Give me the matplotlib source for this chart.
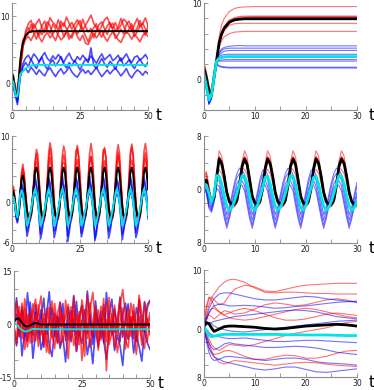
import matplotlib
matplotlib.use("Agg")
import matplotlib.pyplot as plt
import numpy as np

RED = "#ff0000"
BLUE = "#0000ff"
CYAN = "#00e5e5"

# ---------------- row 1: relaxation to a steady state ----------------
t_run = np.arange(0, 51)  # sample times of the stochastic runs (rows 1 and 3, left)

run1_red = [
    [1.0, -0.8, -2.0, 2.5, 6.0, 7.4, 8.3, 7.6, 8.9, 8.1, 7.2, 8.6, 9.3, 8.0, 7.5, 8.8, 8.2, 9.5, 8.4, 7.0,
     7.8, 8.6, 9.1, 8.3, 7.4, 8.0, 9.6, 8.5, 7.7, 8.2, 6.8, 7.9, 8.8, 9.2, 8.1, 7.3, 8.5, 9.0, 7.8, 8.4,
     9.7, 8.6, 7.5, 8.1, 8.9, 7.6, 8.3, 9.4, 8.0, 7.2, 8.7],
    [1.8, 0.0, -1.5, 3.2, 6.5, 7.0, 7.4, 8.8, 7.5, 6.6, 8.0, 7.3, 8.1, 9.2, 8.6, 7.1, 6.4, 7.6, 8.5, 9.0,
     8.2, 7.2, 6.8, 7.9, 8.8, 9.4, 8.0, 7.1, 6.2, 7.4, 8.3, 8.9, 7.6, 6.9, 7.8, 8.6, 9.1, 8.0, 6.7, 7.3,
     8.1, 7.4, 8.8, 9.3, 8.2, 7.0, 7.7, 8.5, 9.0, 8.1, 7.6],
    [0.5, -1.2, -2.5, 1.8, 5.2, 7.8, 8.9, 9.4, 8.2, 9.0, 9.6, 8.3, 7.6, 8.4, 9.8, 9.1, 8.7, 8.0, 9.3, 8.5,
     9.9, 9.0, 8.1, 8.8, 9.5, 8.6, 7.9, 8.7, 9.4, 10.2, 9.0, 8.3, 7.8, 8.6, 9.5, 9.9, 8.8, 8.2, 9.1, 8.0,
     8.7, 9.6, 9.2, 8.4, 7.9, 8.8, 9.7, 8.5, 8.9, 9.8, 8.6],
    [1.2, -0.5, -2.2, 2.0, 5.5, 6.6, 7.0, 6.4, 7.3, 7.8, 6.9, 6.2, 7.1, 7.6, 6.8, 7.4, 8.0, 7.2, 6.5, 6.9,
     7.7, 6.6, 7.3, 8.1, 7.0, 6.4, 7.2, 6.0, 5.8, 6.7, 7.5, 6.8, 7.4, 7.9, 6.9, 6.3, 7.1, 7.7, 7.2, 6.5,
     6.1, 7.0, 7.8, 7.3, 6.6, 7.4, 6.8, 6.2, 7.1, 7.6, 7.0],
]
run1_blue = [
    [0.8, -1.0, -2.8, 1.0, 2.4, 3.1, 2.5, 3.6, 2.8, 2.2, 3.3, 3.9, 2.7, 2.1, 3.0, 3.5, 2.6, 3.2, 4.0, 2.9,
     2.3, 3.1, 2.6, 3.4, 2.8, 2.0, 2.9, 3.6, 3.1, 5.3, 2.7, 2.2, 3.0, 3.7, 2.9, 2.4, 3.3, 2.8, 2.1, 3.2,
     3.8, 2.6, 3.0, 3.5, 2.7, 2.2, 3.1, 3.6, 2.9, 2.5, 3.2],
    [1.2, -0.6, -2.4, 1.4, 1.8, 2.2, 1.6, 2.4, 1.9, 1.3, 2.0, 1.5, 1.1, 1.9, 2.3, 1.6, 1.0, 1.7, 2.2, 1.4,
     1.8, 2.5, 1.7, 1.2, 0.9, 1.6, 2.1, 1.5, 1.9, 1.3, 1.8, 2.4, 1.6, 1.0, 1.5, 2.0, 1.4, 1.9, 2.3, 1.7,
     1.1, 1.6, 2.2, 1.3, 0.8, 1.5, 2.0, 1.7, 1.2, 1.8, 1.4],
    [0.4, -1.4, -3.2, 0.8, 2.9, 3.8, 4.2, 3.5, 4.4, 3.9, 3.2, 4.0, 4.6, 3.7, 3.3, 4.1, 3.6, 4.3, 3.8, 3.1,
     3.9, 4.5, 3.6, 3.2, 4.0, 3.5, 4.2, 3.7, 3.4, 4.1, 3.6, 3.0, 3.8, 4.4, 3.5, 3.9, 4.3, 3.4, 3.7, 4.2,
     3.3, 3.8, 4.4, 3.6, 3.1, 3.9, 4.1, 3.5, 3.8, 4.3, 3.6],
]
t_mean1 = [0, 0.5, 1, 1.5, 2, 2.5, 3, 3.5, 4, 5, 6, 7, 8, 10, 50]
mean1_black = [1.5, 1.0, -0.5, -1.8, -2.0, 0.5, 3.2, 4.9, 6.0, 7.1, 7.6, 7.75, 7.8, 7.8, 7.8]
mean1_cyan = [0.5, 0.2, -1.0, -2.0, -2.0, -0.5, 1.3, 1.6, 1.8, 2.2, 2.5, 2.65, 2.7, 2.75, 2.75]

t_det1 = [0, 0.5, 1, 1.5, 2, 2.5, 3, 3.5, 4, 5, 6, 7, 8, 10, 30]
det1_red = [
    [2.0, 0.8, -1.0, -1.8, 0.5, 2.8, 5.6, 7.2, 8.0, 8.9, 9.3, 9.45, 9.5, 9.55, 9.55],
    [1.8, 0.5, -1.2, -1.8, 0.4, 2.6, 4.9, 6.1, 6.9, 7.7, 8.0, 8.15, 8.2, 8.25, 8.25],
    [1.2, 0.0, -1.6, -2.0, 0.2, 2.5, 4.7, 5.9, 6.6, 7.4, 7.8, 7.95, 8.05, 8.1, 8.1],
    [1.6, 0.4, -1.4, -1.9, 0.3, 2.5, 4.6, 5.7, 6.4, 7.1, 7.3, 7.35, 7.35, 7.35, 7.35],
    [1.0, -0.2, -1.7, -2.1, 0.1, 2.4, 4.2, 5.1, 5.6, 6.0, 6.2, 6.25, 6.3, 6.3, 6.3],
    [2.2, 1.0, -0.9, -1.6, 0.6, 2.7, 5.0, 6.2, 7.0, 7.8, 8.1, 8.25, 8.3, 8.3, 8.3],
]
det1_blue = [
    [1.0, -0.6, -2.6, -1.8, 0.6, 2.5, 3.6, 4.0, 4.2, 4.35, 4.4, 4.45, 4.4, 4.4, 4.4],
    [0.8, -0.9, -2.9, -2.2, 0.3, 2.4, 3.4, 3.8, 4.0, 4.1, 4.1, 4.1, 4.1, 4.1, 4.1],
    [0.6, -1.1, -3.1, -2.4, 0.2, 2.4, 3.2, 3.5, 3.7, 3.8, 3.8, 3.8, 3.8, 3.8, 3.8],
    [1.2, -0.5, -2.5, -1.9, 0.5, 2.5, 3.0, 3.2, 3.25, 3.3, 3.3, 3.3, 3.3, 3.3, 3.3],
    [0.5, -1.3, -3.3, -2.6, 0.0, 2.3, 2.7, 2.85, 2.9, 2.9, 2.9, 2.9, 2.9, 2.9, 2.9],
    [0.9, -0.8, -2.8, -2.0, 0.4, 2.4, 2.5, 2.55, 2.6, 2.6, 2.6, 2.6, 2.6, 2.6, 2.6],
    [0.7, -1.0, -3.0, -2.3, 0.2, 2.3, 2.4, 2.4, 2.4, 2.4, 2.4, 2.4, 2.4, 2.4, 2.4],
    [1.1, -0.7, -2.7, -2.1, 0.3, 2.1, 1.8, 1.7, 1.65, 1.6, 1.6, 1.6, 1.6, 1.6, 1.6],
    [0.4, -1.4, -3.2, -2.5, -0.1, 1.9, 1.7, 1.6, 1.55, 1.5, 1.5, 1.5, 1.5, 1.5, 1.5],
]
det1_black = [1.5, 0.2, -1.5, -2.0, 0.3, 2.5, 4.8, 6.0, 6.7, 7.5, 7.8, 7.9, 7.95, 7.95, 7.95]
det1_cyan = [0.8, -0.9, -2.7, -2.0, 0.3, 2.4, 2.8, 2.9, 2.95, 3.0, 3.0, 3.0, 3.0, 3.0, 3.0]

# ---------------- row 2: oscillations ----------------
t_osc = np.arange(0, 50.5, 0.5)

run2_red = [
    [1.2, 2.5, 1.0, -1.0, -2.3, -1.8, 1.2, 4.5, 5.8, 4.0, 1.2, -1.0, -2.4, -2.6, -2.0, -0.4, 3.0, 6.2,
     7.4, 6.0, 2.6, -0.8, -2.3, -2.7, -2.1, -0.3, 3.1, 6.5,
     8.1, 6.9, 3.4, -0.2, -2.0, -2.4, -2.5, -1.0, 2.4, 5.9,
     7.2, 6.4, 2.2, -1.1, -2.6, -2.3, -1.8, 0.1, 3.3, 6.8,
     8.6, 7.0, 3.8, 0.3, -1.9, -2.5, -2.2, -0.7, 2.7, 6.1,
     7.0, 5.6, 2.1, -0.9, -2.4, -2.8, -2.0, -0.2, 3.5, 7.2,
     8.3, 6.6, 3.1, -0.4, -2.2, -2.4, -2.3, -0.9, 2.2, 5.7,
     7.6, 6.2, 2.9, -0.6, -2.5, -2.6, -1.9, 0.0, 3.2, 6.9,
     8.8, 7.3, 3.6, 0.1, -2.0, -2.5, -2.2, -0.6, 2.8, 6.3,
     7.5, 6.1, 3.0],
    [0.8, 1.9, 0.4, -1.6, -2.2, -1.2, 0.5, 3.2, 4.6, 3.6, 0.9, -1.4, -2.2, -2.3, -1.5, 0.2, 3.4, 5.6,
     6.2, 5.1, 2.8, -0.2, -2.0, -2.3, -1.7, 0.2, 3.0, 5.5,
     6.8, 5.4, 2.4, -0.7, -2.1, -2.2, -1.6, -0.1, 3.6, 5.9,
     6.0, 5.8, 3.0, 0.1, -1.8, -2.4, -1.9, 0.4, 3.1, 5.2,
     6.5, 5.2, 2.3, -0.5, -2.2, -2.1, -1.5, 0.0, 3.4, 6.0,
     6.9, 5.5, 2.7, -0.3, -1.9, -2.3, -1.8, 0.3, 2.9, 5.4,
     6.3, 5.0, 2.0, -0.8, -2.3, -2.2, -1.6, 0.1, 3.3, 5.8,
     7.1, 5.7, 2.6, -0.4, -2.0, -2.4, -1.7, 0.2, 3.0, 5.6,
     6.4, 5.3, 2.5, -0.6, -2.1, -2.2, -1.8, -0.2, 3.5, 6.1,
     6.6, 5.2, 2.7],
    [1.5, 2.2, 0.9, -1.2, -2.5, -1.9, 1.0, 4.0, 5.2, 4.4, 1.5, -0.8, -2.6, -2.8, -2.2, -0.6, 2.6, 5.9,
     8.0, 7.2, 3.5, 0.2, -2.1, -2.9, -2.4, -0.5, 3.8, 7.5,
     9.0, 7.8, 4.0, 0.5, -2.4, -2.7, -2.2, -0.2, 3.9, 7.1,
     8.5, 7.6, 3.3, -0.1, -2.5, -3.0, -2.3, -0.4, 4.2, 7.8,
     8.2, 6.8, 3.7, 0.4, -2.2, -2.8, -2.1, -0.1, 3.6, 7.3,
     8.9, 7.5, 3.9, 0.0, -2.6, -2.9, -2.4, -0.3, 4.0, 7.9,
     8.0, 7.0, 3.4, 0.2, -2.3, -2.7, -2.2, -0.6, 3.7, 7.4,
     8.7, 7.4, 3.8, 0.3, -2.2, -3.0, -2.5, -0.2, 4.1, 7.6,
     8.4, 7.1, 3.6, 0.1, -2.4, -2.8, -2.3, -0.4, 3.9, 7.7,
     8.9, 7.4, 3.8],
]
run2_blue = [
    [0.5, 1.2, -0.2, -2.0, -2.8, -1.2, 1.5, 2.6, 2.0, 0.2, -2.2, -4.2, -3.6, -2.4, -1.2, 0.4, 2.1, 3.3,
     2.4, 0.5, -2.2, -4.6, -3.7, -2.5, -1.1, 0.5, 2.3, 3.5,
     2.0, 0.8, -1.9, -4.2, -4.0, -2.8, -1.5, 0.1, 1.8, 3.0,
     2.6, 0.4, -2.4, -5.0, -3.9, -2.4, -1.2, 0.6, 2.2, 3.8,
     2.1, 0.7, -2.0, -4.5, -3.6, -2.7, -1.4, 0.2, 1.9, 3.1,
     2.5, 0.3, -2.3, -5.3, -4.1, -2.6, -1.0, 0.4, 2.4, 3.6,
     2.2, 0.9, -1.8, -4.3, -3.8, -2.5, -1.3, 0.3, 2.0, 3.3,
     2.7, 0.5, -2.1, -4.7, -3.9, -2.8, -1.2, 0.5, 2.1, 3.4,
     2.3, 0.6, -2.2, -4.4, -3.7, -2.6, -1.4, 0.2, 2.2, 3.2,
     2.4, 0.7, -2.0],
    [0.8, 1.0, 0.0, -1.6, -2.4, -1.4, 0.6, 1.2, 0.9, -0.2, -1.6, -3.0, -2.8, -2.0, -1.0, 0.0, 0.9, 1.4,
     1.0, -0.1, -1.5, -3.1, -2.9, -2.1, -1.1, -0.1, 0.8, 1.3,
     0.9, 0.0, -1.7, -3.3, -2.7, -1.9, -0.9, 0.1, 1.0, 1.6,
     1.1, -0.2, -1.4, -2.9, -3.0, -2.2, -1.2, -0.2, 0.7, 1.2,
     0.8, 0.1, -1.6, -3.2, -2.8, -1.8, -1.0, 0.0, 0.9, 1.5,
     1.2, -0.1, -1.5, -3.0, -2.9, -2.0, -1.1, 0.1, 1.1, 1.4,
     0.9, 0.0, -1.8, -3.4, -2.7, -2.1, -0.9, -0.1, 0.8, 1.3,
     1.0, -0.2, -1.6, -3.1, -3.0, -1.9, -1.0, 0.0, 1.0, 1.6,
     1.1, 0.1, -1.5, -3.0, -2.8, -2.0, -1.2, 0.1, 0.9, 1.4,
     1.0, 0.0, -1.6],
    [0.3, 1.5, 0.2, -2.2, -3.0, -1.0, 1.9, 3.0, 2.4, 0.4, -2.6, -5.0, -4.2, -2.8, -1.4, 0.6, 2.6, 3.9,
     2.8, 0.9, -2.5, -5.4, -4.4, -2.9, -1.3, 0.8, 2.7, 3.8,
     3.0, 0.6, -2.7, -5.2, -4.3, -3.0, -1.6, 0.5, 2.5, 4.1,
     2.6, 0.8, -2.4, -5.8, -4.5, -2.8, -1.4, 0.7, 2.9, 3.7,
     3.1, 1.0, -2.6, -5.1, -4.2, -3.1, -1.5, 0.6, 2.6, 4.0,
     2.7, 0.7, -2.8, -5.6, -4.6, -2.9, -1.2, 0.9, 2.8, 3.9,
     3.2, 0.9, -2.5, -5.3, -4.4, -3.0, -1.4, 0.5, 2.7, 3.6,
     2.9, 0.6, -2.7, -5.5, -4.3, -2.8, -1.6, 0.8, 2.5, 4.0,
     3.0, 0.8, -2.6, -5.2, -4.5, -3.1, -1.3, 0.7, 2.9, 3.8,
     2.8, 0.9, -2.4],
]
mean2_black = [
    1.0, 1.7, 0.6, -1.3, -2.0, -1.6, 0.8, 3.6, 4.1, 3.0, 0.8, -1.2, -2.0, -2.0, -1.8, -0.3, 2.4, 4.7,
    5.3, 4.4, 2.0, -0.6, -1.9, -2.0, -1.9, -0.5, 2.2, 4.6,
    5.3, 4.4, 2.0, -0.6, -1.9, -2.0, -1.9, -0.5, 2.2, 4.6,
    5.3, 4.4, 2.0, -0.6, -1.9, -2.0, -1.9, -0.5, 2.2, 4.6,
    5.3, 4.4, 2.0, -0.6, -1.9, -2.0, -1.9, -0.5, 2.2, 4.6,
    5.3, 4.4, 2.0, -0.6, -1.9, -2.0, -1.9, -0.5, 2.2, 4.6,
    5.3, 4.4, 2.0, -0.6, -1.9, -2.0, -1.9, -0.5, 2.2, 4.6,
    5.3, 4.4, 2.0, -0.6, -1.9, -2.0, -1.9, -0.5, 2.2, 4.6,
    5.3, 4.4, 2.0, -0.6, -1.9, -2.0, -1.9, -0.5, 2.2, 4.6,
    5.3, 4.4, 2.0]
mean2_cyan = [
    0.6, 0.9, 0.0, -1.5, -2.2, -0.8, 1.2, 1.9, 1.4, 0.0, -1.8, -3.4, -3.0, -2.0, -1.0, 0.2, 1.4, 2.1,
    1.5, 0.2, -1.8, -3.4, -3.0, -2.0, -1.0, 0.2, 1.4, 2.1,
    1.5, 0.2, -1.8, -3.4, -3.0, -2.0, -1.0, 0.2, 1.4, 2.1,
    1.5, 0.2, -1.8, -3.4, -3.0, -2.0, -1.0, 0.2, 1.4, 2.1,
    1.5, 0.2, -1.8, -3.4, -3.0, -2.0, -1.0, 0.2, 1.4, 2.1,
    1.5, 0.2, -1.8, -3.4, -3.0, -2.0, -1.0, 0.2, 1.4, 2.1,
    1.5, 0.2, -1.8, -3.4, -3.0, -2.0, -1.0, 0.2, 1.4, 2.1,
    1.5, 0.2, -1.8, -3.4, -3.0, -2.0, -1.0, 0.2, 1.4, 2.1,
    1.5, 0.2, -1.8, -3.4, -3.0, -2.0, -1.0, 0.2, 1.4, 2.1,
    1.5, 0.2, -1.8]

t_det2 = np.arange(0, 30.5, 0.5)
det2_red = [
    [1.5, 2.4, 0.2, -1.8, -1.6, 1.9,
     5.8, 5.0, 2.6, -0.5, -2.1, -2.6, -2.6, -2.0, 0.6, 4.3,
     5.8, 4.8, 1.9, -1.2, -2.4, -2.6, -2.2, -0.2, 3.8,
     5.8, 5.0, 2.6, -0.5, -2.1, -2.6, -2.6, -2.0, 0.6, 4.3,
     5.8, 4.8, 1.9, -1.2, -2.4, -2.6, -2.2, -0.2, 3.8,
     5.8, 5.0, 2.6, -0.5, -2.1, -2.6, -2.6, -2.0, 0.6, 4.3,
     5.8, 5.0, 2.6, -0.5, -2.1, -2.6, -2.6],
    [1.8, 2.7, 0.6, -1.5, -1.5, 1.6,
     5.0, 4.4, 2.5, -0.2, -1.8, -2.4, -2.5, -1.9, 0.4, 3.7,
     5.0, 4.2, 1.9, -0.9, -2.1, -2.5, -2.1, -0.2, 3.3,
     5.0, 4.4, 2.5, -0.2, -1.8, -2.4, -2.5, -1.9, 0.4, 3.7,
     5.0, 4.2, 1.9, -0.9, -2.1, -2.5, -2.1, -0.2, 3.3,
     5.0, 4.4, 2.5, -0.2, -1.8, -2.4, -2.5, -1.9, 0.4, 3.7,
     5.0, 4.4, 2.5, -0.2, -1.8, -2.4, -2.5],
    [0.9, 1.9, 0.0, -1.7, -1.3, 1.4,
     4.2, 3.7, 2.1, -0.2, -1.6, -2.2, -2.3, -1.8, 0.3, 3.0,
     4.2, 3.5, 1.6, -0.8, -1.9, -2.3, -1.9, -0.3, 2.6,
     4.2, 3.7, 2.1, -0.2, -1.6, -2.2, -2.3, -1.8, 0.3, 3.0,
     4.2, 3.5, 1.6, -0.8, -1.9, -2.3, -1.9, -0.3, 2.6,
     4.2, 3.7, 2.1, -0.2, -1.6, -2.2, -2.3, -1.8, 0.3, 3.0,
     4.2, 3.7, 2.1, -0.2, -1.6, -2.2, -2.3],
    [0.7, 1.3, -0.4, -1.9, -1.0, 1.8,
     3.0, 2.4, 1.0, -0.8, -1.9, -2.2, -2.0, -1.0, 1.0, 3.2,
     3.0, 2.2, 0.5, -1.3, -2.1, -2.1, -1.4, 0.4, 2.9,
     3.0, 2.4, 1.0, -0.8, -1.9, -2.2, -2.0, -1.0, 1.0, 3.2,
     3.0, 2.2, 0.5, -1.3, -2.1, -2.1, -1.4, 0.4, 2.9,
     3.0, 2.4, 1.0, -0.8, -1.9, -2.2, -2.0, -1.0, 1.0, 3.2,
     3.0, 2.4, 1.0, -0.8, -1.9, -2.2, -2.0],
]
det2_blue = [
    [0.8, 0.2, -1.8, -2.6, -0.8, 1.9,
     2.2, 0.5, -1.8, -3.8, -2.6, -0.8, 1.0, 2.4, 3.2, 3.0,
     2.2, 0.3, -2.0, -3.8, -2.3, -0.4, 1.5, 2.8, 3.1,
     2.2, 0.5, -1.8, -3.8, -2.6, -0.8, 1.0, 2.4, 3.2, 3.0,
     2.2, 0.3, -2.0, -3.8, -2.3, -0.4, 1.5, 2.8, 3.1,
     2.2, 0.5, -1.8, -3.8, -2.6, -0.8, 1.0, 2.4, 3.2, 3.0,
     2.2, 0.5, -1.8, -3.8, -2.6, -0.8, 1.0],
    [0.6, -0.1, -2.2, -2.9, -1.2, 1.3,
     1.4, -0.5, -2.8, -4.6, -3.2, -1.4, 0.4, 1.8, 2.4, 2.2,
     1.4, -0.7, -3.0, -4.6, -2.9, -1.0, 0.9, 2.2, 2.3,
     1.4, -0.5, -2.8, -4.6, -3.2, -1.4, 0.4, 1.8, 2.4, 2.2,
     1.4, -0.7, -3.0, -4.6, -2.9, -1.0, 0.9, 2.2, 2.3,
     1.4, -0.5, -2.8, -4.6, -3.2, -1.4, 0.4, 1.8, 2.4, 2.2,
     1.4, -0.5, -2.8, -4.6, -3.2, -1.4, 0.4],
    [0.4, -0.4, -2.5, -3.2, -1.6, 0.7,
     0.5, -1.5, -3.6, -5.3, -3.9, -2.1, -0.5, 0.9, 1.5, 1.3,
     0.5, -1.7, -3.8, -5.3, -3.6, -1.7, 0.0, 1.3, 1.4,
     0.5, -1.5, -3.6, -5.3, -3.9, -2.1, -0.5, 0.9, 1.5, 1.3,
     0.5, -1.7, -3.8, -5.3, -3.6, -1.7, 0.0, 1.3, 1.4,
     0.5, -1.5, -3.6, -5.3, -3.9, -2.1, -0.5, 0.9, 1.5, 1.3,
     0.5, -1.5, -3.6, -5.3, -3.9, -2.1, -0.5],
    [0.3, -0.6, -2.8, -3.4, -2.0, 0.2,
     -0.2, -2.2, -4.2, -5.8, -4.4, -2.6, -1.0, 0.3, 0.8, 0.6,
     -0.2, -2.4, -4.4, -5.8, -4.1, -2.2, -0.5, 0.6, 0.7,
     -0.2, -2.2, -4.2, -5.8, -4.4, -2.6, -1.0, 0.3, 0.8, 0.6,
     -0.2, -2.4, -4.4, -5.8, -4.1, -2.2, -0.5, 0.6, 0.7,
     -0.2, -2.2, -4.2, -5.8, -4.4, -2.6, -1.0, 0.3, 0.8, 0.6,
     -0.2, -2.2, -4.2, -5.8, -4.4, -2.6, -1.0],
]
det2_black = [
    1.1, 1.4, -0.6, -1.9, -1.2, 1.8,
    4.6, 3.9, 2.0, -0.4, -1.8, -2.2, -2.2, -1.6, 0.6, 3.5,
    4.6, 3.7, 1.4, -1.0, -2.0, -2.2, -1.8, 0.0, 3.0,
    4.6, 3.9, 2.0, -0.4, -1.8, -2.2, -2.2, -1.6, 0.6, 3.5,
    4.6, 3.7, 1.4, -1.0, -2.0, -2.2, -1.8, 0.0, 3.0,
    4.6, 3.9, 2.0, -0.4, -1.8, -2.2, -2.2, -1.6, 0.6, 3.5,
    4.6, 3.9, 2.0, -0.4, -1.8, -2.2, -2.2]
det2_cyan = [
    0.6, 0.7, -0.6, -1.9, -0.8, 2.1,
    2.0, 0.9, -0.9, -2.5, -3.1, -2.7, -1.8, -0.6, 0.8, 2.1,
    2.0, 0.8, -1.0, -2.7, -3.1, -2.4, -1.2, 0.2, 1.8,
    2.0, 0.9, -0.9, -2.5, -3.1, -2.7, -1.8, -0.6, 0.8, 2.1,
    2.0, 0.8, -1.0, -2.7, -3.1, -2.4, -1.2, 0.2, 1.8,
    2.0, 0.9, -0.9, -2.5, -3.1, -2.7, -1.8, -0.6, 0.8, 2.1,
    2.0, 0.9, -0.9, -2.5, -3.1, -2.7, -1.8]

# ---------------- row 3: strong noise ----------------
run3_red = [
    [0.5, 4.2, -3.1, 6.0, -1.5, 2.8, -5.2, 3.6, 7.1, -2.4, 0.9, -6.0, 4.5, 1.2, -3.8, 5.9, -0.7, 2.6, -4.9, 6.8,
     0.3, -2.2, 3.9, -7.5, 1.8, 4.7, -1.3, 8.5, -3.6, 0.6, 5.2, -5.5, 2.1, -0.9, 6.4, -4.1, 3.0, -6.6, 1.5, 7.2,
     -2.7, 0.2, 4.8, -3.3, 5.6, -1.8, 2.4, -5.8, 6.2, -0.4, 3.3],
    [-0.5, -3.8, 5.1, -2.0, 4.4, -6.3, 1.7, -0.8, -4.6, 5.5, -2.9, 3.1, -7.8, 2.2, 6.6, -1.1, -5.3, 4.0, 0.8, -3.2,
     -9.6, 5.0, -0.3, 2.9, -5.7, 1.1, -8.9, 3.4, 6.1, -2.5, -0.2, 4.1, -4.4, 7.3, -13.0, 2.3, -1.6, 5.4, -3.0, 0.7,
     4.6, -6.9, 2.7, -1.2, 3.8, -4.7, 6.7, -2.0, 0.1, -5.0, 2.0],
    [1.0, 6.5, 2.3, -4.0, 7.2, 0.4, -2.6, 5.8, -1.0, 3.5, 8.0, -3.4, 0.7, 4.9, -2.1, -6.8, 3.0, 6.3, -0.5, 2.0,
     5.7, -4.2, 7.9, 1.4, -2.8, 6.9, 2.5, -3.9, 4.3, 9.0, 0.0, -2.3, 5.1, 1.9, -4.8, 7.6, 0.9, 3.6, -1.7, 5.3,
     9.8, 2.2, -3.5, 6.0, 1.0, -2.4, 8.2, 3.1, -1.1, 4.5, 6.6],
    [-1.0, -5.5, 0.8, 3.3, -7.0, -2.2, 4.1, -4.9, 2.4, -6.2, -1.3, 1.6, -4.3, -8.2, 0.5, 3.2, -3.7, -6.1, 2.7, -0.9,
     -4.4, 1.8, -5.9, -2.6, 3.6, -10.1, -1.9, 0.4, -6.4, -3.1, 2.9, -7.2, -0.6, -4.0, 1.3, -5.6, -2.5, 0.8, -7.9, -3.4,
     1.0, -4.6, -6.5, 2.2, -2.8, -8.4, 0.3, -3.9, -6.8, 1.7, -3.0],
]
run3_blue = [
    [0.2, 7.5, -1.8, 3.9, -4.5, 8.9, 1.3, -3.0, 5.6, -0.4, 4.2, -6.4, 2.5, 9.2, -1.7, 3.0, -5.0, 6.2, 0.6, -2.7,
     4.8, -0.9, 8.1, -4.2, 2.3, 5.4, -2.0, 9.4, 1.1, -3.8, 6.6, -0.2, 3.7, -5.1, 9.0, 1.6, -2.9, 4.4, -0.7, 7.7,
     -3.6, 2.0, 5.8, -1.4, 3.2, -4.8, 7.0, 0.4, -2.2, 5.5, 6.8],
    [-0.3, -6.0, 2.2, -8.8, -1.5, -4.7, 3.1, -9.5, -2.3, 1.0, -7.1, -3.5, 0.9, -5.8, -9.0, -1.2, 2.4, -6.7, -3.3, -10.5,
     -0.8, -4.9, 1.5, -7.6, -2.1, -5.3, 0.2, -8.5, -3.9, -11.0, -1.0, -6.3, 1.8, -4.5, -9.8, -2.6, 0.6, -7.3, -3.1, -5.9,
     -11.5, -1.7, -4.2, 0.3, -8.0, -2.9, -6.2, -10.3, -1.4, -5.1, -7.0],
    [0.6, 2.8, -3.5, 5.0, 0.1, -2.4, 6.3, -1.1, 3.4, -4.0, 1.9, 7.4, -2.8, 0.5, 4.6, -3.3, 2.0, -0.6, 5.9, -4.4,
     1.2, 3.8, -1.9, 6.5, -3.0, 0.8, 4.1, -2.5, 2.9, -5.6, 3.5, 0.0, -3.7, 5.7, -1.3, 2.6, 7.1, -2.2, 0.4, -4.9,
     3.0, 6.0, -0.8, 2.1, -3.9, 4.7, 1.4, -1.6, 6.4, 0.9, -2.1],
]
t_mean3 = [0, 0.5, 1, 1.5, 2, 3, 4, 5, 6, 7, 8, 9, 10, 12, 50]
mean3_black = [0.5, 1.2, 1.6, 1.7, 1.5, 0.5, -0.4, -0.6, -0.3, 0.2, 0.4, 0.2, 0.0, 0.0, 0.0]
mean3_cyan = [0.5, 0.3, 0.0, -0.4, -0.9, -1.6, -1.95, -1.9, -1.5, -1.25, -1.25, -1.3, -1.35, -1.35, -1.35]

t_det3 = [0, 0.5, 1, 1.5, 2, 3, 4, 5, 6, 8, 10, 12, 14, 16, 18, 20, 22, 24, 26, 28, 30]
det3_red = [
    [0.5, 2.5, 4.2, 5.3, 6.0, 7.2, 8.0, 8.4, 8.5, 8.0, 7.0, 6.3, 6.2, 6.3, 6.3, 6.2, 6.1, 6.1, 6.0, 6.0, 6.0],
    [0.8, 3.5, 5.2, 5.5, 5.0, 4.2, 4.5, 5.8, 6.8, 7.5, 7.2, 6.5, 6.4, 6.8, 7.2, 7.5, 7.6, 7.7, 7.8, 7.8, 7.8],
    [1.0, 2.0, 2.5, 2.2, 1.8, 2.5, 3.2, 3.0, 2.6, 2.8, 3.5, 4.2, 4.5, 4.3, 4.0, 4.2, 4.6, 5.0, 5.2, 5.0, 4.6],
    [0.5, 1.5, 2.8, 3.5, 3.6, 3.0, 2.4, 2.0, 1.8, 1.6, 1.8, 2.2, 2.6, 3.0, 3.4, 3.6, 3.4, 3.0, 2.6, 2.2, 2.0],
    [0.2, -0.5, -1.5, -2.5, -3.0, -3.5, -3.0, -2.5, -2.6, -2.8, -2.5, -2.0, -1.5, -1.0, -0.6, -0.3, 0.0, 0.3, 0.8, 1.2, 1.4],
    [0.0, -1.5, -3.0, -3.8, -4.2, -4.0, -3.6, -3.5, -3.8, -4.5, -5.0, -5.0, -4.6, -4.3, -4.4, -4.8, -4.8, -4.5, -4.0, -3.6, -3.5],
    [0.3, -1.0, -2.2, -3.5, -4.5, -5.5, -5.8, -5.5, -5.2, -5.4, -5.6, -5.8, -6.0, -5.8, -5.6, -5.5, -5.6, -5.8, -6.0, -6.1, -6.2],
    [1.2, 4.0, 5.5, 5.0, 4.0, 3.0, 2.5, 2.8, 3.2, 3.6, 3.2, 2.6, 2.0, 1.6, 1.6, 1.8, 2.2, 2.6, 2.8, 2.6, 2.4],
]
det3_blue = [
    [0.5, 2.0, 3.5, 4.5, 5.2, 6.0, 6.2, 6.2, 6.0, 5.6, 5.2, 5.0, 5.0, 5.2, 5.4, 5.6, 5.5, 5.2, 5.0, 4.8, 4.6],
    [0.8, 1.8, 2.8, 3.5, 4.0, 4.3, 4.2, 4.0, 4.0, 4.1, 4.0, 3.8, 3.6, 3.7, 3.9, 4.0, 4.2, 4.4, 4.6, 4.7, 4.8],
    [0.5, 0.8, 1.0, 1.2, 1.4, 1.6, 1.8, 2.0, 2.2, 2.4, 2.6, 2.8, 3.0, 3.2, 3.3, 3.2, 3.0, 2.6, 2.2, 2.0, 1.8],
    [0.2, -1.0, -2.2, -3.0, -3.4, -3.0, -2.4, -2.2, -2.4, -2.6, -2.8, -3.0, -3.0, -2.9, -2.8, -2.9, -3.1, -3.4, -3.8, -4.0, -4.2],
    [0.0, -2.0, -3.8, -4.8, -5.2, -5.0, -4.6, -4.5, -4.6, -4.8, -5.0, -5.2, -5.0, -4.8, -4.8, -5.0, -5.4, -5.6, -5.7, -5.8, -6.0],
    [0.0, -1.5, -3.0, -4.0, -4.6, -5.0, -5.4, -5.6, -5.8, -6.2, -6.6, -6.8, -6.6, -6.3, -6.3, -6.7, -7.1, -7.2, -7.0, -6.8, -6.6],
    [0.4, 0.0, -0.5, -0.8, -1.0, -1.2, -1.4, -1.5, -1.5, -1.4, -1.6, -1.8, -2.0, -2.0, -1.9, -1.8, -1.8, -1.9, -2.0, -2.1, -2.2],
    [0.6, 1.0, 1.2, 1.0, 0.6, 0.2, 0.0, -0.2, -0.3, -0.4, -0.2, 0.0, 0.2, 0.4, 0.6, 0.8, 1.0, 1.2, 1.4, 1.5, 1.6],
]
det3_black = [0.5, 1.2, 1.0, 0.3, -0.3, 0.1, 0.5, 0.6, 0.6, 0.5, 0.4, 0.2, 0.1, 0.2, 0.4, 0.6, 0.7, 0.8, 0.9, 0.8, 0.6]
det3_cyan = [0.5, -0.2, -0.9, -1.2, -1.1, -0.9, -0.8, -0.8, -0.8, -0.8, -0.8, -0.8, -0.8, -0.85, -0.85, -0.9, -0.9,
             -0.9, -0.95, -1.0, -1.0]


def style(ax, xmax, xlabels, ylo, yhi, ystep, ylabels, tx):
    ax.set_xlim(0, xmax)
    ax.set_ylim(ylo, yhi)
    for s in ("top", "right"):
        ax.spines[s].set_visible(False)
    for s in ("left", "bottom"):
        ax.spines[s].set_color("#8a8a8a")
        ax.spines[s].set_linewidth(0.8)
    xt = np.arange(0, xmax + 0.1, 5)
    ax.set_xticks(xt)
    ax.set_xticklabels([str(int(v)) if int(v) in xlabels else "" for v in xt])
    yt = np.arange(ylo, yhi + 0.1, ystep)
    ax.set_yticks(yt)
    ax.set_yticklabels([ylabels.get(int(round(v)), "") for v in yt])
    ax.tick_params(direction="in", length=3, width=0.6, color="#8a8a8a",
                   labelsize=5.5, labelcolor="#222222", pad=1.5)
    ax.text(tx, -0.05, "t", transform=ax.transAxes, fontsize=11,
            ha="center", va="center", clip_on=False)


fig = plt.figure(figsize=(3.74, 3.90), dpi=100)
noisy = dict(lw=1.2, alpha=0.7)
smooth = dict(lw=0.8, alpha=0.55)

# row 1
ax = fig.add_axes([0.032, 0.718, 0.364, 0.274])
for y in run1_red:
    ax.plot(t_run, y, color=RED, **noisy)
for y in run1_blue:
    ax.plot(t_run, y, color=BLUE, **noisy)
ax.plot(t_mean1, mean1_black, color="black", lw=1.4)
ax.plot(t_mean1, mean1_cyan, color=CYAN, lw=1.4)
style(ax, 50, (0, 25, 50), -4, 12, 2, {10: "10", 0: "0"}, 1.08)

ax = fig.add_axes([0.545, 0.718, 0.409, 0.274])
for y in det1_red:
    ax.plot(t_det1, y, color=RED, **smooth)
for y in det1_blue:
    ax.plot(t_det1, y, color=BLUE, **smooth)
ax.plot(t_det1, det1_black, color="black", lw=2)
ax.plot(t_det1, det1_cyan, color=CYAN, lw=2)
style(ax, 30, (0, 10, 20, 30), -4, 10, 2, {10: "10", 0: "0"}, 1.1)

# row 2
ax = fig.add_axes([0.032, 0.377, 0.364, 0.274])
for y in run2_red:
    ax.plot(t_osc, y, color=RED, **noisy)
for y in run2_blue:
    ax.plot(t_osc, y, color=BLUE, **noisy)
ax.plot(t_osc, mean2_black, color="black", lw=1.4)
ax.plot(t_osc, mean2_cyan, color=CYAN, lw=1.4)
style(ax, 50, (0, 25, 50), -6, 10, 2, {10: "10", 0: "0", -6: "-6"}, 1.08)

ax = fig.add_axes([0.545, 0.377, 0.409, 0.274])
for y in det2_red:
    ax.plot(t_det2, y, color=RED, **smooth)
for y in det2_blue:
    ax.plot(t_det2, y, color=BLUE, **smooth)
ax.plot(t_det2, det2_black, color="black", lw=2)
ax.plot(t_det2, det2_cyan, color=CYAN, lw=2)
style(ax, 30, (0, 10, 20, 30), -8, 8, 2, {8: "8", 0: "0", -8: "8"}, 1.1)

# row 3
ax = fig.add_axes([0.037, 0.031, 0.364, 0.274])
for y in run3_blue:
    ax.plot(t_run, y, color=BLUE, **noisy)
for y in run3_red:
    ax.plot(t_run, y, color=RED, **noisy)
ax.plot(t_mean3, mean3_black, color="black", lw=1.4)
ax.plot(t_mean3, mean3_cyan, color=CYAN, lw=1.4)
style(ax, 50, (0, 25, 50), -15, 15, 5, {15: "15", 0: "0", -15: "-15"}, 1.08)

ax = fig.add_axes([0.545, 0.033, 0.409, 0.274])
for y in det3_red:
    ax.plot(t_det3, y, color=RED, **smooth)
for y in det3_blue:
    ax.plot(t_det3, y, color=BLUE, **smooth)
ax.plot(t_det3, det3_black, color="black", lw=2)
ax.plot(t_det3, det3_cyan, color=CYAN, lw=2)
style(ax, 30, (0, 10, 20, 30), -8, 10, 2, {10: "10", 0: "0", -8: "8"}, 1.1)

fig.savefig("out.png", dpi=100)
